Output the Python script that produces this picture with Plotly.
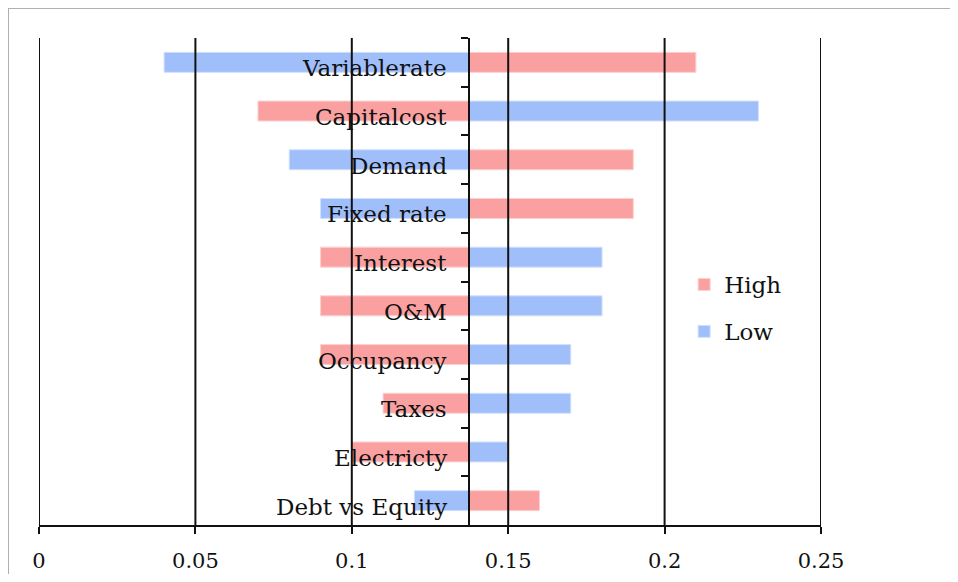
import plotly.graph_objects as go

# категории сверху вниз
categories = ["Variablerate", "Capitalcost", "Demand", "Fixed rate", "Interest",
              "O&M", "Occupancy", "Taxes", "Electricty", "Debt vs Equity"]
high_values = [0.21, 0.07, 0.19, 0.19, 0.09, 0.09, 0.09, 0.11, 0.10, 0.16]
low_values = [0.04, 0.23, 0.08, 0.09, 0.18, 0.18, 0.17, 0.17, 0.15, 0.12]
base_value = 0.1375
x_ticks = [0, 0.05, 0.1, 0.15, 0.2, 0.25]

FONT = "DejaVu Serif"
RED = "#FBA0A0"
BLUE = "#A0BEFA"
INK = "#111111"

fig = go.Figure()

fig.add_trace(go.Bar(
    y=categories, x=[v - base_value for v in high_values], base=base_value,
    orientation="h", name="High", marker_color=RED,
    marker_line=dict(color="#FDD0D0", width=1), width=0.41, legendgroup="high"
))
fig.add_trace(go.Bar(
    y=categories, x=[v - base_value for v in low_values], base=base_value,
    orientation="h", name="Low", marker_color=BLUE,
    marker_line=dict(color="#D0E0FD", width=1), width=0.41, legendgroup="low"
))

# вертикальные линии сетки поверх столбиков
for t in x_ticks:
    fig.add_shape(type="line", xref="x", yref="paper", x0=t, x1=t, y0=0, y1=1,
                  line=dict(color=INK, width=2), layer="above")

# подписи категорий у оси
for c in categories:
    fig.add_annotation(x=base_value, y=c, text=c, showarrow=False,
                       xanchor="right", xshift=-20, yshift=-6,
                       font=dict(family=FONT, size=23, color=INK))

# рамка области диаграммы (видны только верх и левый край)
fig.add_shape(type="line", xref="paper", yref="paper",
              x0=-0.0396, x1=1.2, y0=1.0616, y1=1.0616,
              line=dict(color="#B0B0B0", width=2), layer="below")
fig.add_shape(type="line", xref="paper", yref="paper",
              x0=-0.0396, x1=-0.0396, y0=-0.2, y1=1.0616,
              line=dict(color="#B0B0B0", width=2), layer="below")

# страница даёт отступ 8px со всех сторон, поэтому фигура меньше окна
fig.update_layout(
    width=942, height=566,
    margin=dict(l=31, r=129, t=30, b=49, autoexpand=False),
    paper_bgcolor="white", plot_bgcolor="white",
    barmode="overlay",
    font=dict(family=FONT, size=22, color=INK),
    legend=dict(x=0.825, y=0.538, xanchor="left", yanchor="top",
                traceorder="grouped", tracegroupgap=14,
                font=dict(family=FONT, size=23, color=INK),
                bgcolor="rgba(0,0,0,0)"),
    xaxis=dict(range=[0, 0.25], tickvals=x_ticks, ticktext=[str(t) for t in x_ticks],
               showgrid=False, zeroline=False, showline=True, linecolor=INK,
               linewidth=2, ticks="outside", ticklen=7, tickwidth=2,
               tickcolor=INK, ticklabelstandoff=9, automargin=False,
               tickfont=dict(family=FONT, size=21, color=INK)),
    yaxis=dict(categoryorder="array", categoryarray=categories, autorange="reversed",
               anchor="free", position=0.55, showline=True, linecolor=INK,
               linewidth=2, ticks="outside", ticklen=7, tickwidth=2,
               tickcolor=INK, tickson="boundaries", showticklabels=False,
               showgrid=False, zeroline=False, layer="above traces",
               automargin=False),
    showlegend=True,
)

fig.write_html("out.html")
